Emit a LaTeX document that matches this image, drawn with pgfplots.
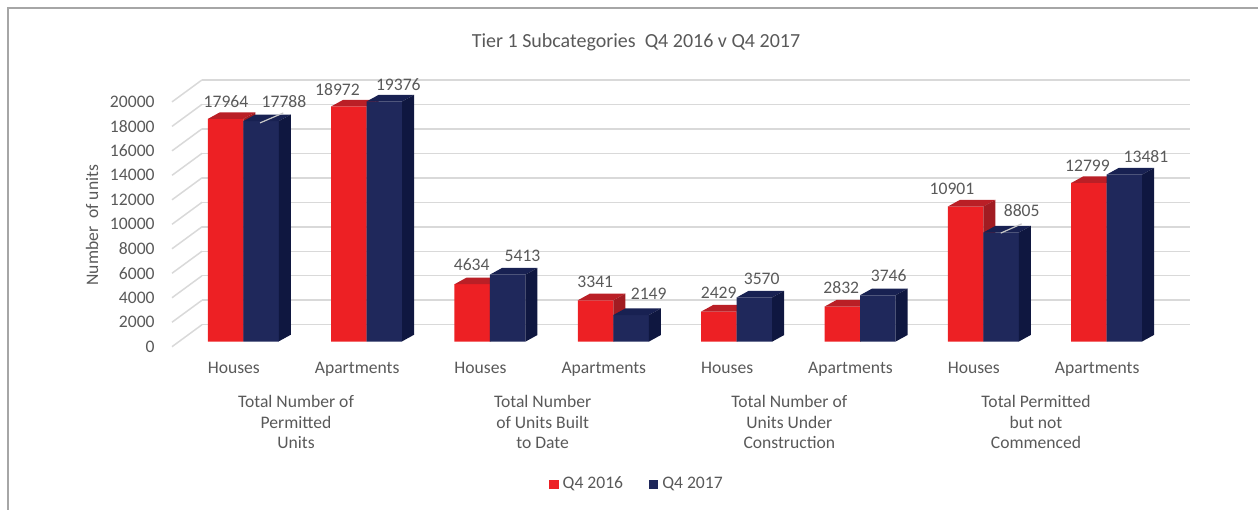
\documentclass[border=0pt]{standalone}
\usepackage{pgfplots}
\usepackage{pgfplotstable}
\pgfplotsset{compat=1.18}
\usepackage{fontspec}
\setmainfont{Carlito}
\definecolor{txt}{HTML}{595959}
\definecolor{redF}{HTML}{ED2024}
\definecolor{redT}{HTML}{BA1F26}
\definecolor{redS}{HTML}{A11C22}
\definecolor{navF}{HTML}{1F285B}
\definecolor{navT}{HTML}{182152}
\definecolor{navS}{HTML}{0F1740}
\definecolor{gridc}{HTML}{D9D9D9}
\definecolor{framec}{HTML}{A6A6A6}
\newcommand\lab{\fontsize{8.8pt}{10.5pt}\selectfont}

% 3-D top and side faces of a bar; height from the point meta (mapped 0..20000 -> 0..1000)
\pgfdeclareplotmark{prismL}{%
  \pgfmathsetmacro\hh{-\pgfplotspointmetatransformed*0.1238}%
  \pgfmathsetmacro\hb{\hh+3.3}%
  \pgfsetfillcolor{redT}%
  \pgfpathmoveto{\pgfpoint{-17.75pt}{0pt}}%
  \pgfpathlineto{\pgfpoint{0pt}{0pt}}%
  \pgfpathlineto{\pgfpoint{6pt}{3.3pt}}%
  \pgfpathlineto{\pgfpoint{-11.75pt}{3.3pt}}%
  \pgfpathclose\pgfusepath{fill}%
  \pgfsetfillcolor{redS}%
  \pgfpathmoveto{\pgfpoint{0pt}{0pt}}%
  \pgfpathlineto{\pgfpoint{0pt}{\hh pt}}%
  \pgfpathlineto{\pgfpoint{6pt}{\hb pt}}%
  \pgfpathlineto{\pgfpoint{6pt}{3.3pt}}%
  \pgfpathclose\pgfusepath{fill}%
}
\pgfdeclareplotmark{prismR}{%
  \pgfmathsetmacro\hh{-\pgfplotspointmetatransformed*0.1238}%
  \pgfmathsetmacro\hb{\hh+3.3}%
  \pgfsetfillcolor{navT}%
  \pgfpathmoveto{\pgfpoint{0pt}{0pt}}%
  \pgfpathlineto{\pgfpoint{17.75pt}{0pt}}%
  \pgfpathlineto{\pgfpoint{23.75pt}{3.3pt}}%
  \pgfpathlineto{\pgfpoint{6pt}{3.3pt}}%
  \pgfpathclose\pgfusepath{fill}%
  \pgfsetfillcolor{navS}%
  \pgfpathmoveto{\pgfpoint{17.75pt}{0pt}}%
  \pgfpathlineto{\pgfpoint{17.75pt}{\hh pt}}%
  \pgfpathlineto{\pgfpoint{23.75pt}{\hb pt}}%
  \pgfpathlineto{\pgfpoint{23.75pt}{3.3pt}}%
  \pgfpathclose\pgfusepath{fill}%
}

% i: category; r: Q4 2016; n: Q4 2017
\pgfplotstableread{
i r     n
0 17964 17788
1 18972 19376
2 4634  5413
3 3341  2149
4 2429  3570
5 2832  3746
6 10901 8805
7 12799 13481
}\data
% value label positions (axis units) and texts
\pgfplotstableread{
x       y     t
-0.1403 19362 17964
0.7637  20331 18972
1.8518  6196  4634
2.8539  4847  3341
3.8544  3958  2429
4.8484  4362  2832
5.7459  12334 10901
6.8445  14216 12799
0.3300  19362 17788
1.2567  20735 19376
2.2637  6922  5413
3.2869  3853  2149
4.2031  5065  3570
5.2327  5307  3746
6.3110  10557 8805
7.3189  14895 13481
}\labels

\newcommand\grp[4]{%
  \node[anchor=base, font=\lab, text=txt, inner sep=0pt, xshift=-4.5pt, yshift=-33pt] at (axis cs:#1,0) {#2};
  \node[anchor=base, font=\lab, text=txt, inner sep=0pt, xshift=-4.5pt, yshift=-43.25pt] at (axis cs:#1,0) {#3};
  \node[anchor=base, font=\lab, text=txt, inner sep=0pt, xshift=-4.5pt, yshift=-53.5pt] at (axis cs:#1,0) {#4};
}

\begin{document}
\begin{tikzpicture}
\useasboundingbox (0,0) rectangle (629pt,254.5pt);
% outer chart frame
\draw[framec, line width=1pt] (4pt,-5pt) -- (4pt,250.5pt) -- (640pt,250.5pt);
% title
\node[anchor=base, font=\fontsize{10pt}{12pt}\selectfont, text=txt, inner sep=0pt]
  at (318pt,230.75pt) {Tier 1 Subcategories\ \ Q4 2016 v Q4 2017};

% ---- axis A: back wall grid and value ticks
\begin{axis}[
  at={(86pt,81.15pt)}, anchor=south west,
  x=0.5pt, y=0.006125pt,
  xmin=0, xmax=988, ymin=0, ymax=20000,
  enlargelimits=false, clip=false,
  axis line style={draw=none}, tick style={draw=none},
  xtick=\empty,
  ytick={0,2000,...,20000},
  scaled y ticks=false,
  /pgf/number format/.cd, 1000 sep={}, fixed, assume math mode=true, /pgfplots/.cd,
  yticklabel style={anchor=east, inner sep=0pt, xshift=-8.5pt, font=\lab, text=txt},
  ymajorgrids,
  major grid style={draw=gridc, line width=0.75pt, xshift=15pt, yshift=11pt},
  ylabel={Number\ \ of units},
  every axis y label/.style={at={(axis cs:-80,9935)}, rotate=90, anchor=center, font=\lab, text=txt},
]
\pgfplotsinvokeforeach{0,2000,4000,6000,8000,10000,12000,14000,16000,18000,20000}{
  \draw[gridc, line width=0.75pt] (axis cs:0,#1) -- ++(15pt,11pt);
}
\end{axis}

% ---- axis B: the bars
\begin{axis}[
  at={(90.815pt,83.65pt)}, anchor=south west,
  x=61.67pt, y=0.00619pt,
  xmin=-0.5, xmax=7.5, ymin=0, ymax=20000,
  enlargelimits=false, clip=false, clip marker paths=true,
  axis line style={draw=none}, tick style={draw=none},
  ytick=\empty,
  xtick={0,...,7},
  xticklabels={Houses,Apartments,Houses,Apartments,Houses,Apartments,Houses,Apartments},
  xticklabel style={anchor=base, yshift=-16pt, xshift=-4.75pt, font=\lab, text=txt},
  legend columns=2,
  legend style={at={(0.4626,-0.5747)}, anchor=center, draw=none, fill=none,
    font=\lab, text=txt, inner sep=0pt,
    /tikz/every even column/.append style={column sep=11pt}},
]
\addplot[ybar, bar width=17.75pt, bar shift=-8.875pt, fill=redF, draw=none,
  legend image code/.code={\fill[redF] (0pt,-2.4pt) rectangle (4.6pt,2.2pt);}]
  table[x=i, y=r] \data;
\addlegendentry{Q4 2016}
\addplot[scatter, only marks, mark=prismL, forget plot,
  point meta=y, point meta min=0, point meta max=20000]
  table[x=i, y=r] \data;
\addplot[ybar, bar width=17.75pt, bar shift=8.875pt, fill=navF, draw=none,
  legend image code/.code={\fill[navF] (0pt,-2.4pt) rectangle (4.6pt,2.2pt);}]
  table[x=i, y=n] \data;
\addlegendentry{Q4 2017}
\addplot[scatter, only marks, mark=prismR, forget plot,
  point meta=y, point meta min=0, point meta max=20000]
  table[x=i, y=n] \data;
% value labels
\addplot[draw=none, mark=none, forget plot, nodes near coords, point meta=explicit symbolic,
  every node near coord/.append style={anchor=center, font=\lab, text=txt, inner sep=0pt}]
  table[x=x, y=y, meta=t] \labels;
% leader lines
\draw[gridc!80!gray, line width=0.6pt] (axis cs:0,17788) ++(8.35pt,-0.9pt) -- ++(11.65pt,5pt);
\draw[gridc!80!gray, line width=0.6pt] (axis cs:6,8805) ++(8.7pt,-0.3pt) -- ++(10.5pt,4.65pt);
% group labels
\grp{0.5}{Total Number of}{Permitted}{Units}
\grp{2.5}{Total Number}{of Units Built}{to Date}
\grp{4.5}{Total Number of}{Units Under}{Construction}
\grp{6.5}{Total Permitted}{but not}{Commenced}
\end{axis}
\end{tikzpicture}
\end{document}
